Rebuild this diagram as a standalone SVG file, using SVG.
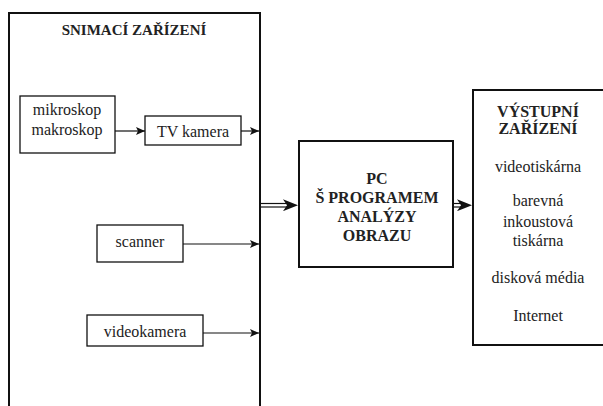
<svg xmlns="http://www.w3.org/2000/svg" width="603" height="406" viewBox="0 0 603 406">
<defs>
<style>
.t{font-family:'Liberation Serif','Times New Roman',serif;fill:#222;text-anchor:middle;font-size:16px}
.b{font-family:'Liberation Serif','Times New Roman',serif;fill:#222;text-anchor:middle;font-weight:bold;font-size:16px}
.box{fill:none;stroke:#111;stroke-width:1.3}
.thick{fill:none;stroke:#111;stroke-width:2}
.ln{stroke:#111;stroke-width:1.2;fill:none}
</style>
<marker id="ah" markerWidth="10" markerHeight="8" refX="9" refY="4" orient="auto" markerUnits="userSpaceOnUse">
<path d="M0,0 L9,4 L0,8 L2,4 Z" fill="#111"/>
</marker>
<marker id="ahb" markerWidth="16" markerHeight="12" refX="15" refY="6" orient="auto" markerUnits="userSpaceOnUse">
<path d="M0,0 L15,6 L0,12 L4,6 Z" fill="#111"/>
</marker>
</defs>
<rect width="603" height="406" fill="#fff"/>
<g id="snimaci">
<path class="thick" d="M9,406 V13 H260 V406"/>
<text class="b" x="134" y="35" style="font-size:15px">SNIMACÍ ZAŘÍZENÍ</text>
</g>
<g id="mikroskop">
<rect class="box" x="20" y="96" width="95" height="57"/>
<text class="t" x="67" y="115">mikroskop</text>
<text class="t" x="67" y="135">makroskop</text>
</g>
<g id="tvkamera">
<rect class="box" x="145" y="116" width="96" height="29"/>
<text class="t" x="193" y="137">TV kamera</text>
</g>
<g id="scanner">
<rect class="box" x="97" y="225" width="86" height="37"/>
<text class="t" x="140" y="247">scanner</text>
</g>
<g id="videokamera">
<rect class="box" x="87" y="315" width="116" height="31"/>
<text class="t" x="145" y="337">videokamera</text>
</g>
<g id="pc">
<rect class="thick" x="299" y="141" width="154" height="126"/>
<text class="b" x="377" y="184">PC</text>
<text class="b" x="377" y="203">Š PROGRAMEM</text>
<text class="b" x="377" y="222">ANALÝZY</text>
<text class="b" x="377" y="241">OBRAZU</text>
</g>
<g id="vystupni">
<path class="thick" d="M603,90 H473 V345 H603"/>
<text class="b" x="538" y="117">VÝSTUPNÍ</text>
<text class="b" x="538" y="134">ZAŘÍZENÍ</text>
<text class="t" x="538" y="172">videotiskárna</text>
<text class="t" x="538" y="206">barevná</text>
<text class="t" x="538" y="227">inkoustová</text>
<text class="t" x="538" y="246">tiskárna</text>
<text class="t" x="538" y="283">disková média</text>
<text class="t" x="538" y="321">Internet</text>
</g>
<g id="connectors">
<line class="ln" x1="115" y1="131" x2="145" y2="131" marker-end="url(#ah)"/>
<line class="ln" x1="241" y1="131" x2="259" y2="131" marker-end="url(#ah)"/>
<line class="ln" x1="183" y1="244" x2="259" y2="244" marker-end="url(#ah)"/>
<line class="ln" x1="203" y1="333" x2="259" y2="333" marker-end="url(#ah)"/>
<line class="ln" x1="261" y1="203.5" x2="290" y2="203.5"/>
<line class="ln" x1="261" y1="207" x2="290" y2="207"/>
<line x1="282" y1="205.2" x2="298" y2="205.2" stroke="none" marker-end="url(#ahb)"/>
<line class="ln" x1="454" y1="203.5" x2="464" y2="203.5"/>
<line class="ln" x1="454" y1="207" x2="464" y2="207"/>
<line x1="458" y1="205.2" x2="472" y2="205.2" stroke="none" marker-end="url(#ahb)"/>
</g>
</svg>
